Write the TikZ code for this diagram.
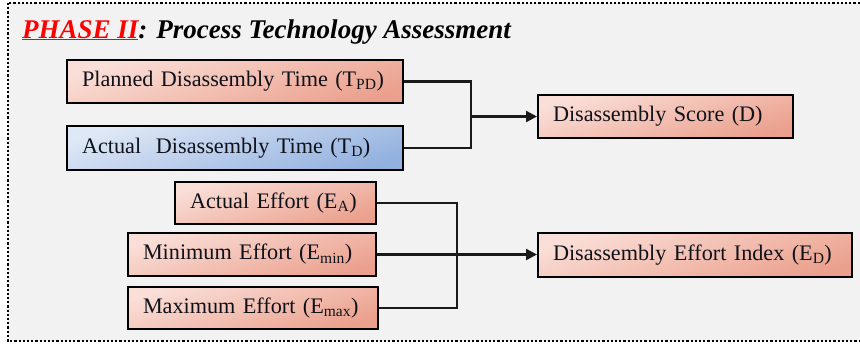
\documentclass[tikz,border=0pt]{standalone}
\usepackage{fontspec}
\setmainfont{Liberation Serif}
\usetikzlibrary{arrows.meta}

\definecolor{panelbg}{HTML}{F2F2F2}
\definecolor{redlight}{HTML}{FADFD8}
\definecolor{reddark}{HTML}{EBA08D}
\definecolor{bluelight}{HTML}{DFE8F6}
\definecolor{bluedark}{HTML}{93B1DF}
\definecolor{inktext}{HTML}{10121A}
\definecolor{wire}{HTML}{1A1A1A}
\definecolor{titlered}{HTML}{FF0000}

\newcommand{\lowidx}[1]{\textsubscript{#1}}

\tikzset{
  box/.style={draw=black, line width=2pt, rectangle, anchor=center,
    inner xsep=15pt, inner ysep=0pt, align=left, text=inktext,
    font=\fontsize{22.2}{25}\selectfont},
  redbox/.style={box, top color=redlight, bottom color=reddark, shading angle=18},
  bluebox/.style={box, top color=bluelight, bottom color=bluedark, shading angle=18},
  wireline/.style={draw=wire, line width=2.3pt},
  arrowline/.style={wireline, -{Triangle[length=11pt,width=11pt]}},
}

\begin{document}
\begin{tikzpicture}[x=1pt,y=-1pt]
  \useasboundingbox (0,0) rectangle (860,343);
  \fill[white] (0,0) rectangle (860,343);

  % panel with dotted frame
  \fill[panelbg] (8,3) rectangle (875,341);
  \draw[black, line width=2.2pt, dash pattern=on 2.2pt off 2pt] (8,3) rectangle (875,341);

  % heading
  \node[anchor=base west, inner sep=0pt, font=\fontsize{27}{30}\selectfont\bfseries\itshape]
    (heading) at (22,38) {\textcolor{titlered}{\underline{PHASE II}}: Process Technology Assessment};

  % time inputs and score
  \node[redbox, minimum width=336pt, minimum height=43pt, text width=306pt] (pd) at (235,81.5)
    {Planned Disassembly Time (T\lowidx{PD})};
  \node[bluebox, minimum width=336pt, minimum height=44pt, text width=306pt] (td) at (235,148)
    {Actual\ \ Disassembly Time (T\lowidx{D})};
  \node[redbox, minimum width=255pt, minimum height=43pt, text width=225pt] (ds) at (665.5,116.5)
    {Disassembly Score (D)};

  % effort inputs and index
  \node[redbox, minimum width=201pt, minimum height=42pt, text width=171pt] (ea) at (275.5,203)
    {Actual Effort (E\lowidx{A})};
  \node[redbox, minimum width=248pt, minimum height=43pt, text width=218pt] (emin) at (252,254.5)
    {Minimum Effort (E\lowidx{min})};
  \node[redbox, minimum width=250pt, minimum height=42pt, text width=220pt] (emax) at (253,308)
    {Maximum Effort (E\lowidx{max})};
  \node[redbox, minimum width=314pt, minimum height=44pt, text width=284pt] (ed) at (695,255)
    {Disassembly Effort Index (E\lowidx{D})};

  % connectors
  \coordinate (m1) at (471,116.5);
  \draw[wireline] (pd.east) -| (m1 |- td.east) -- (td.east);
  \draw[arrowline] (m1) -- (ds.west);

  \coordinate (m2) at (457,255);
  \draw[wireline] (ea.east) -| (m2 |- emax.east) -- (emax.east);
  \draw[arrowline] (emin.east) -- (emin.east -| ed.west);
\end{tikzpicture}
\end{document}
